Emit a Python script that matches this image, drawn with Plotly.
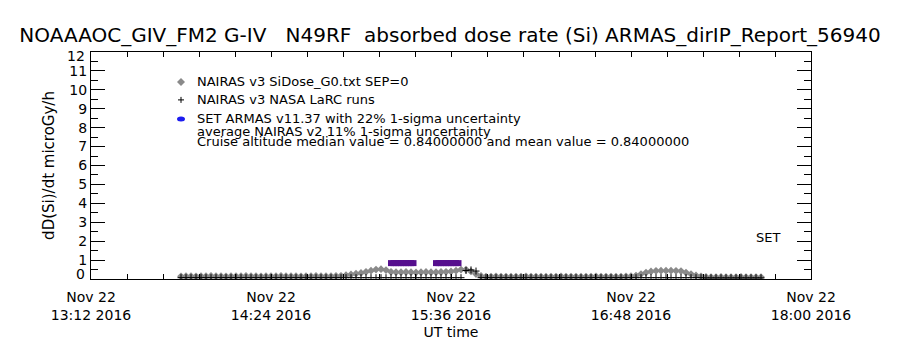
import pandas as pd
import plotly.graph_objects as go

# NAIRAS model runs on a 2-minute grid, 13:48 -> 17:40 UT
model_times = pd.date_range("2016-11-22 13:48", "2016-11-22 17:40", freq="2min")

nairas_sidose = [
    0.14, 0.15, 0.15, 0.14, 0.15, 0.15, 0.16, 0.15, 0.15, 0.14, 0.15,
    0.15, 0.15, 0.16, 0.15, 0.15, 0.14, 0.15, 0.15, 0.15, 0.16, 0.15,
    0.15, 0.15, 0.14, 0.15, 0.15, 0.16, 0.15, 0.15, 0.15, 0.16, 0.17,
    0.20, 0.24, 0.28, 0.32, 0.38, 0.44,
    0.50, 0.52, 0.47,
    0.38, 0.36, 0.36, 0.37, 0.36, 0.35, 0.36, 0.37, 0.36, 0.36, 0.37, 0.38, 0.40,
    0.44, 0.50, 0.50,
    0.40, 0.26, 0.16,
    0.13, 0.13, 0.14, 0.13, 0.13, 0.12, 0.13, 0.13, 0.14, 0.13,
    0.13, 0.13, 0.12, 0.13, 0.13, 0.14, 0.13, 0.13, 0.13, 0.12,
    0.13, 0.13, 0.14, 0.13, 0.13, 0.13, 0.12, 0.13, 0.14, 0.15,
    0.18, 0.26, 0.34, 0.40, 0.43, 0.44,
    0.44, 0.44, 0.43, 0.42,
    0.34, 0.26, 0.19, 0.14,
    0.11, 0.10, 0.10, 0.11, 0.10, 0.10, 0.10, 0.11, 0.10, 0.10, 0.10, 0.10,
]

nairas_larc = [
    0.07, 0.07, 0.07, 0.07, 0.07, 0.07, 0.07, 0.07, 0.07, 0.07, 0.07,
    0.07, 0.07, 0.07, 0.07, 0.07, 0.07, 0.07, 0.07, 0.07, 0.07, 0.07,
    0.07, 0.07, 0.07, 0.07, 0.07, 0.07, 0.07, 0.07, 0.07, 0.07, 0.07,
    0.07, 0.07, 0.07, 0.07, 0.07, 0.07,
    0.07, 0.07, 0.07,
    0.07, 0.07, 0.07, 0.07, 0.07, 0.07, 0.07, 0.07, 0.07, 0.07, 0.07, 0.07, 0.07,
    0.07, 0.07, 0.45,
    0.48, 0.42, 0.07,
    0.07, 0.07, 0.07, 0.07, 0.07, 0.07, 0.07, 0.07, 0.07, 0.07,
    0.07, 0.07, 0.07, 0.07, 0.07, 0.07, 0.07, 0.07, 0.07, 0.07,
    0.07, 0.07, 0.07, 0.07, 0.07, 0.07, 0.07, 0.07, 0.07, 0.07,
    0.07, 0.07, 0.07, 0.07, 0.07, 0.07,
    0.07, 0.07, 0.07, 0.07,
    0.07, 0.07, 0.07, 0.07,
    0.06, 0.06, 0.06, 0.06, 0.06, 0.06, 0.06, 0.06, 0.06, 0.06, 0.06, 0.06,
]

# ARMAS 1-minute measurements (two cruise segments)
armas_times = [
    "2016-11-22 15:12", "2016-11-22 15:13", "2016-11-22 15:14", "2016-11-22 15:15",
    "2016-11-22 15:16", "2016-11-22 15:17", "2016-11-22 15:18", "2016-11-22 15:19",
    "2016-11-22 15:20", "2016-11-22 15:21",
    "2016-11-22 15:30", "2016-11-22 15:31", "2016-11-22 15:32", "2016-11-22 15:33",
    "2016-11-22 15:34", "2016-11-22 15:35", "2016-11-22 15:36", "2016-11-22 15:37",
    "2016-11-22 15:38", "2016-11-22 15:39",
]
armas_dose = [
    0.84, 0.84, 0.84, 0.84, 0.84, 0.84, 0.84, 0.84, 0.84, 0.84,
    0.84, 0.84, 0.84, 0.84, 0.84, 0.84, 0.84, 0.84, 0.84, 0.84,
]

y_ticks = [0, 1, 2, 3, 4, 5, 6, 7, 8, 9, 10, 11, 12]
y_ticktext = ["", "1", "2", "3", "4", "5", "6", "7", "8", "9", "10", "11", ""]

legend_lines = [
    "NAIRAS v3 SiDose_G0.txt SEP=0",
    "NAIRAS v3 NASA LaRC runs",
    "SET ARMAS v11.37 with 22% 1-sigma uncertainty",
    "average NAIRAS v2 11% 1-sigma uncertainty",
    "Cruise altitude median value = 0.84000000 and mean value = 0.84000000",
]

FONT = "DejaVu Sans"

fig = go.Figure()
fig.add_trace(go.Scatter(
    x=model_times, y=nairas_sidose, mode="markers",
    marker=dict(symbol="diamond", size=6, color="#8a8a8a", line=dict(width=0)),
    showlegend=False,
))
fig.add_trace(go.Scatter(
    x=model_times, y=nairas_larc, mode="markers",
    marker=dict(symbol="cross-thin", size=5, line=dict(width=1, color="black")),
    showlegend=False,
))
fig.add_trace(go.Scatter(
    x=armas_times, y=armas_dose, mode="markers",
    marker=dict(symbol="square", size=6, color="#560f8e", line=dict(width=0)),
    showlegend=False,
))

fig.update_layout(
    width=900, height=350,
    margin=dict(l=91, r=89, t=52, b=71, autoexpand=False),
    paper_bgcolor="white", plot_bgcolor="white",
    font=dict(family=FONT, color="black", size=14),
    title=dict(
        text="NOAAAOC_GIV_FM2 G-IV   N49RF  absorbed dose rate (Si) ARMAS_dirIP_Report_56940",
        x=0.5, xanchor="center", y=1 - 35 / 350, yanchor="middle",
        font=dict(family=FONT, size=20, color="black"), automargin=False,
    ),
)

fig.update_xaxes(
    type="date", automargin=False,
    range=["2016-11-22 13:12", "2016-11-22 18:00"],
    tickmode="linear", tick0="2016-11-22 13:12", dtick=864000,
    ticklabelstep=5, tickformat="%b %d<br>%H:%M %Y",
    ticks="inside", ticklen=5, tickcolor="black", tickwidth=1,
    showline=True, linecolor="black", linewidth=1, mirror="ticks",
    showgrid=False, zeroline=False,
    ticklabelstandoff=5,
    tickfont=dict(family=FONT, size=14),
    title=dict(text="UT time", font=dict(family=FONT, size=14), standoff=5),
)

fig.update_yaxes(
    range=[0, 12], automargin=False,
    tickmode="array", tickvals=y_ticks, ticktext=y_ticktext,
    ticks="inside", ticklen=14, tickcolor="black", tickwidth=1,
    minor=dict(dtick=0.5, ticks="inside", ticklen=7, tickcolor="black"),
    showline=True, linecolor="black", linewidth=1, mirror="ticks",
    showgrid=False, zeroline=False,
    tickfont=dict(family=FONT, size=14),
    title=dict(text="dD(Si)/dt microGy/h", font=dict(family=FONT, size=15), standoff=11),
)

# end labels of the dose axis sit inside the frame
fig.add_annotation(x=0, xref="paper", y=0, yref="y", text="0", showarrow=False,
                   xanchor="right", yanchor="middle", xshift=-4, yshift=5,
                   font=dict(family=FONT, size=14))
fig.add_annotation(x=0, xref="paper", y=12, yref="y", text="12", showarrow=False,
                   xanchor="right", yanchor="middle", xshift=-4, yshift=-4,
                   font=dict(family=FONT, size=14))

# in-plot key
key_y = [0.868, 0.789, 0.705, 0.648, 0.604]
for txt, yy in zip(legend_lines, key_y):
    fig.add_annotation(x=0.144, xref="paper", y=yy, yref="paper", text=txt,
                       showarrow=False, xanchor="left", yanchor="middle",
                       font=dict(family=FONT, size=13))

fig.add_shape(type="path", xref="paper", yref="paper",
              xsizemode="pixel", ysizemode="pixel", xanchor=0.125, yanchor=0.868,
              path="M -4 0 L 0 4 L 4 0 L 0 -4 Z",
              fillcolor="#8a8a8a", line=dict(width=0))
fig.add_shape(type="path", xref="paper", yref="paper",
              xsizemode="pixel", ysizemode="pixel", xanchor=0.125, yanchor=0.789,
              path="M -3 0 L 3 0 M 0 -3 L 0 3",
              line=dict(width=1, color="black"))
fig.add_shape(type="circle", xref="paper", yref="paper",
              xsizemode="pixel", ysizemode="pixel", xanchor=0.125, yanchor=0.705,
              x0=-4, x1=4, y0=-2.5, y1=2.5,
              fillcolor="#1c1cf0", line=dict(width=0))

fig.add_annotation(x=0.94, xref="paper", y=0.185, yref="paper", text="SET",
                   showarrow=False, xanchor="center", yanchor="middle",
                   font=dict(family=FONT, size=13))

fig.write_html("out.html")
